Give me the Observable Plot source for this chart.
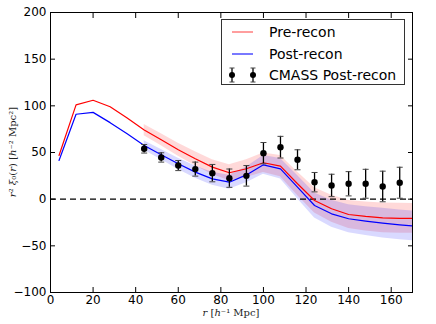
<!DOCTYPE html>
<html><head><meta charset="utf-8">
<script src="https://cdn.jsdelivr.net/npm/d3@7"></script>
<script src="https://cdn.jsdelivr.net/npm/@observablehq/plot@0.6"></script>
<style>
body{margin:0;background:#fff;}
#wrap{position:relative;width:436px;height:324px;}
#legend{position:absolute;left:221px;top:19px;width:182px;height:64px;border:1px solid #333;background:#fff;font-family:"DejaVu Sans",sans-serif;font-size:14px;color:#000;}
.row{position:absolute;left:0;height:22px;width:182px;}
.row svg{position:absolute;left:0;top:0;}
.row span{position:absolute;left:47px;top:1px;white-space:nowrap;line-height:20px;}
</style></head><body><div id="wrap"></div>
<script>
// model curves
const rModel = [4,12,20,28,36,44,52,60,68,76,84,92,100,108,116,124,132,140,148,156,164,172];
const preRecon = [46.8,101,106,99,87,74,63.6,53,43.3,34.3,28.3,32.6,39,35.4,16.5,-1.4,-10.3,-16.4,-18.5,-20,-20.5,-20.6];
const postRecon = [41.5,91,93,82,70,57.5,47.6,37.9,29,21.8,18.2,26,36.8,32.5,12.9,-6.8,-15.7,-21,-23.5,-25.7,-27.5,-29];
// bands (scatter of mocks)
const rBand = [44,52,60,68,76,84,92,100,108,116,124,132,140,148,156,164,172];
const preErr = [6,6.5,7,7.5,8,8.5,9.5,10.5,11.5,12.5,13.5,14.5,15,15.5,16,16,16];
const postErr = [5,5.5,6,6.5,7,7.5,8.5,10,11,12.5,13.5,14.5,15,15.5,16,16,16];
// CMASS data
const rData = [44,52,60,68,76,84,92,100,108,116,124,132,140,148,156,164];
const xiData = [54,44.7,36,32.2,27.9,22.5,25,49.3,55.7,42.2,18.2,14.7,16.5,16.5,13.6,17.6];
const errData = [4.6,5,5.4,7.5,9.3,9.8,11,11.4,11.6,10.7,10.4,12,13,15.5,16.4,16.6];
// ticks
const xTicks = [0,20,40,60,80,100,120,140,160];
const yTicks = [-100,-50,0,50,100,150,200];
const legendLabels = ["Pre-recon","Post-recon","CMASS Post-recon"];

const model = rModel.map((r,i)=>({r, pre:preRecon[i], post:postRecon[i]}));
const bands = rBand.map((r,i)=>{const j=rModel.indexOf(r); return {r, pre:preRecon[j], post:postRecon[j], pe:preErr[i], qe:postErr[i]};});
const pts = rData.map((r,i)=>({r, v:xiData[i], e:errData[i]}));

const cap = {draw(ctx,size){const w=Math.sqrt(size/Math.PI); ctx.moveTo(-w,0); ctx.lineTo(w,0);}};

const chart = Plot.plot({
  width:436, height:324,
  marginLeft:50, marginRight:24, marginTop:12, marginBottom:32,
  x:{domain:[0,170]},
  y:{domain:[-100,200]},
  style:{fontFamily:"DejaVu Sans, sans-serif", fontSize:"12px", color:"black", background:"white"},
  marks:[
    Plot.areaY(bands,{x:"r", y1:d=>d.pre-d.pe, y2:d=>d.pre+d.pe, fill:"#ff0000", fillOpacity:0.15, clip:true}),
    Plot.areaY(bands,{x:"r", y1:d=>d.post-d.qe, y2:d=>d.post+d.qe, fill:"#0000ff", fillOpacity:0.15, clip:true}),
    Plot.ruleY([0],{stroke:"black", strokeDasharray:"6,4", strokeWidth:1.1}),
    Plot.lineY(model,{x:"r", y:"pre", stroke:"#ff0000", strokeWidth:1.2, clip:true}),
    Plot.lineY(model,{x:"r", y:"post", stroke:"#0000ff", strokeWidth:1.2, clip:true}),
    Plot.ruleX(pts,{x:"r", y1:d=>d.v-d.e, y2:d=>d.v+d.e, stroke:"black", strokeWidth:1.3}),
    Plot.dot(pts,{x:"r", y:d=>d.v-d.e, symbol:cap, r:3, stroke:"#444", fill:"none", strokeWidth:1}),
    Plot.dot(pts,{x:"r", y:d=>d.v+d.e, symbol:cap, r:3, stroke:"#444", fill:"none", strokeWidth:1}),
    Plot.dot(pts,{x:"r", y:"v", r:3.2, fill:"black", stroke:"none"}),
    Plot.frame({stroke:"black"}),
    Plot.axisX(xTicks,{anchor:"bottom", tickSize:-5, tickPadding:8, label:null, fontSize:12}),
    Plot.axisX(xTicks,{anchor:"top", tickSize:-5, tickFormat:()=>"", label:null}),
    Plot.axisY(yTicks,{anchor:"left", tickSize:-5, tickPadding:9, label:null, fontSize:12}),
    Plot.axisY(yTicks,{anchor:"right", tickSize:-5, tickFormat:()=>"", label:null})
  ]
});
document.getElementById("wrap").appendChild(chart);

// axis labels (math-style text)
const svg = d3.select(chart);
const serif = "DejaVu Serif, Liberation Serif, serif";
const yl = svg.append("text").attr("transform","translate(13,152) rotate(-90)")
  .attr("text-anchor","middle").attr("dominant-baseline","middle")
  .attr("font-family",serif).attr("font-size",10).attr("fill","#222");
yl.append("tspan").attr("font-style","italic").text("r");
yl.append("tspan").text("² ");
yl.append("tspan").attr("font-style","italic").text("ξ");
yl.append("tspan").text("₀(");
yl.append("tspan").attr("font-style","italic").text("r");
yl.append("tspan").text(") [");
yl.append("tspan").attr("font-style","italic").text("h");
yl.append("tspan").text("⁻² Mpc²]");
const xl = svg.append("text").attr("x",231).attr("y",313)
  .attr("text-anchor","middle").attr("dominant-baseline","middle")
  .attr("font-family",serif).attr("font-size",10).attr("fill","#222");
xl.append("tspan").attr("font-style","italic").text("r");
xl.append("tspan").text(" [");
xl.append("tspan").attr("font-style","italic").text("h");
xl.append("tspan").text("⁻¹ Mpc]");

// legend
const leg = document.createElement("div");
leg.id = "legend";
document.getElementById("wrap").appendChild(leg);
const rowTops = [1, 22.5, 43.5];
legendLabels.forEach((lab,i)=>{
  const row = document.createElement("div");
  row.className = "row";
  row.style.top = rowTops[i]+"px";
  const s = d3.create("svg").attr("width",44).attr("height",22);
  if (i < 2) {
    s.append("line").attr("x1",10).attr("x2",31).attr("y1",11).attr("y2",11)
      .attr("stroke", i===0 ? "#ff6a6a" : "#3030ff").attr("stroke-width",1.3);
  } else {
    [10,31].forEach(x=>{
      s.append("line").attr("x1",x).attr("x2",x).attr("y1",4).attr("y2",18).attr("stroke","black").attr("stroke-width",1.3);
      s.append("line").attr("x1",x-2.5).attr("x2",x+2.5).attr("y1",4).attr("y2",4).attr("stroke","#444");
      s.append("line").attr("x1",x-2.5).attr("x2",x+2.5).attr("y1",18).attr("y2",18).attr("stroke","#444");
      s.append("circle").attr("cx",x).attr("cy",11).attr("r",3).attr("fill","black");
    });
  }
  row.appendChild(s.node());
  const sp = document.createElement("span");
  sp.textContent = lab;
  row.appendChild(sp);
  leg.appendChild(row);
});
</script></body></html>
